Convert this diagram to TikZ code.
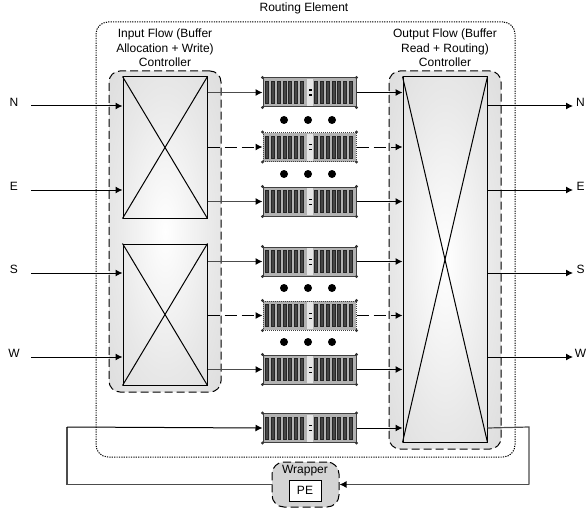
\documentclass[tikz,border=0pt]{standalone}
\usepackage{fontspec}
\setmainfont{Liberation Sans}
\usetikzlibrary{arrows.meta,calc}
\definecolor{ctrlgray}{gray}{0.83}
\definecolor{midgray}{gray}{0.91}
\definecolor{linegray}{gray}{0.3}
\pgfdeclareradialshading{ctrlshade}{\pgfpointorigin}{color(0bp)=(white); color(22bp)=(midgray); color(48bp)=(ctrlgray); color(100bp)=(ctrlgray)}
\tikzset{
  ctrl/.style={draw,shading=ctrlshade,dash pattern=on 8pt off 4pt,line width=1pt,rounded corners=11pt,inner sep=0pt},
  xbar/.style={draw,line width=1pt,inner sep=0pt},
  routerbox/.style={draw=black!75,fill=gray!60,line width=1pt,minimum width=93pt,minimum height=29pt,inner sep=0pt},
  slot/.style={draw=black!85,fill=gray!55!black,line width=0.7pt},
  lbl/.style={font=\fontsize{12}{14.5}\selectfont,align=center,inner sep=0pt},
  flow/.style={-{Latex[length=7pt,width=7pt,color=black]},line width=1pt},
  dflow/.style={flow,dash pattern=on 12pt off 5pt},
  gflow/.style={line width=1.2pt,draw=linegray},
  bigdot/.style={circle,fill=black,minimum size=8pt,inner sep=0pt}
}
% one buffer: name, y, outline style
\newcommand{\router}[3]{
  \node[routerbox,#3] (#1) at (309.5,#2) {};
  \foreach \i in {0,...,6}{
    \draw[slot] ($(#1.west)+(3+\i*5.8,-11)$) rectangle +(3,22);
    \draw[slot] ($(#1.west)+(52+\i*5.8,-11)$) rectangle +(3,22);
  }
  \fill[gray!20] ($(#1.center)+(-3,-13.5)$) rectangle +(6,27);
  \fill[black] ($(#1.center)+(-0.5,-3)$) rectangle +(2.5,1.4);
  \fill[black] ($(#1.center)+(-0.5,2)$) rectangle +(2.5,1.4);
  \foreach \c in {north west,north east,south west,south east}{
    \fill[black!80] (#1.\c) circle (1.6);
  }
}
\begin{document}
\begin{tikzpicture}[x=1pt,y=-1pt]
\useasboundingbox (0,0) rectangle (587,511);
\node[draw,dash pattern=on 1.2pt off 1.2pt,line width=1pt,rounded corners=12pt,minimum width=419pt,minimum height=435pt,inner sep=0pt] (routing) at (305.5,239.5) {};
\node[lbl] (title) at (304,8) {Routing Element};
\node[lbl] (inlabel) at (165,48) {Input Flow (Buffer\\Allocation + Write)\\Controller};
\node[lbl] (outlabel) at (445,48) {Output Flow (Buffer\\Read + Routing)\\Controller};
% controllers
\node[ctrl,minimum width=112pt,minimum height=321pt] (inctrl) at (165,231.5) {};
\node[ctrl,minimum width=112pt,minimum height=378pt] (outctrl) at (445,260) {};
\node[xbar,minimum width=84pt,minimum height=141pt] (xa) at (165,147.5) {};
\node[xbar,minimum width=84pt,minimum height=141pt] (xb) at (165,314.5) {};
\node[xbar,minimum width=84pt,minimum height=365pt] (xc) at (445,259.5) {};
\foreach \b in {xa,xb,xc}{
  \draw[line width=1pt] (\b.north west) -- (\b.south east);
  \draw[line width=1pt] (\b.north east) -- (\b.south west);
}
% buffers
\router{ra}{92.5}{}
\router{rb}{147}{densely dotted}
\router{rc}{201.5}{}
\router{rd}{261.5}{}
\router{re}{315.5}{densely dotted}
\router{rf}{369.5}{}
\router{rg}{428}{}
\foreach \y/\n in {120/a,174/b,288/c,342/d}{
  \node[bigdot] (dot\n1) at (284,\y) {};
  \node[bigdot] (dot\n2) at (308,\y) {};
  \node[bigdot] (dot\n3) at (332,\y) {};
}
% inputs and outputs
\foreach \t/\y/\b in {N/106/xa,E/190/xa,S/273/xb,W/357/xb}{
  \node[lbl] (in\t) at (14,\y-4) {\t};
  \coordinate (from\t) at (31,\y);
  \draw[flow] (from\t) -- (from\t -| \b.west);
  \coordinate (to\t) at (573,\y);
  \node[lbl] (out\t) at (580.5,\y-4) {\t};
  \draw[flow] (to\t -| xc.east) -- (to\t);
}
% buffer links
\foreach \r/\b in {ra/xa,rc/xa,rd/xb,rf/xb}{
  \draw[flow,draw=linegray] (\r.west -| \b.east) -- (\r.west);
  \draw[flow] (\r.east) -- (\r.east -| xc.west);
}
\foreach \r/\b in {rb/xa,re/xb}{
  \draw[dflow] (\r.west -| \b.east) -- (\r.west);
  \draw[dflow] (\r.east) -- (\r.east -| xc.west);
}
\draw[flow] (rg.east) -- (rg.east -| xc.west);
% wrapper
\node[draw,fill=ctrlgray,dash pattern=on 8pt off 4pt,line width=1pt,inner sep=0pt,minimum width=67pt,minimum height=45pt,rounded corners=12pt] (wrapper) at (305.5,484.5) {};
\node[lbl] (wraplabel) at (305,471) {Wrapper};
\node[draw,fill=white,line width=1pt,minimum width=32pt,minimum height=21pt,inner sep=0pt,font=\fontsize{12}{12}\selectfont] (pe) at (305,490.5) {PE};
\coordinate (backr) at (529,427);
\coordinate (backl) at (67,427);
\draw[gflow] (rg.east -| xc.east) -- (backr) -- (backr |- wrapper.east);
\draw[gflow,-{Latex[length=7pt,width=7pt,color=black]}] (backr |- wrapper.east) -- (wrapper.east);
\draw[gflow] (wrapper.west) -- (backl |- wrapper.west) -- (backl);
\draw[flow] (backl) -- (rg.west);
\end{tikzpicture}
\end{document}
